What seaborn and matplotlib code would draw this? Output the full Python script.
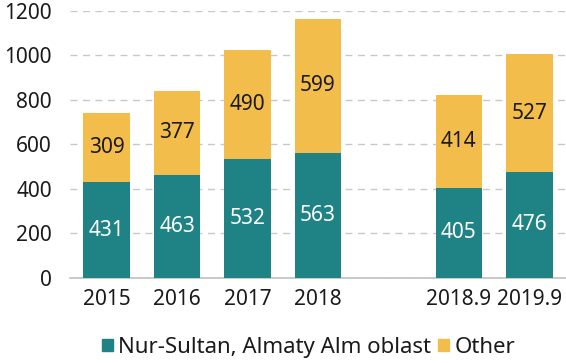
import matplotlib
matplotlib.use('Agg')
import matplotlib.pyplot as plt
import seaborn as sns
import pandas as pd
from matplotlib.patches import Patch

# Data
years = ['2015', '2016', '2017', '2018', '2018.9', '2019.9']
nur_sultan = [431, 463, 532, 563, 405, 476]
other = [309, 377, 490, 599, 414, 527]
order = ['2015', '2016', '2017', '2018', ' ', '2018.9', '2019.9']

teal = '#1f8285'
yellow = '#f3bd4b'

df = pd.DataFrame({'year': years, 'nur': nur_sultan, 'other': other})
df['total'] = df['nur'] + df['other']

sns.set_style('white')
plt.rcParams['font.family'] = ['Noto Sans', 'DejaVu Sans']

fig = plt.figure(figsize=(5.66, 3.63), dpi=100)
ax = fig.add_axes([0.1237, 0.234, 0.8763, 0.737])

# stacked bars: total first (yellow), bottom part on top (teal)
sns.barplot(data=df, x='year', y='total', order=order, color=yellow,
            width=0.66, linewidth=0, saturation=1, ax=ax, zorder=3)
sns.barplot(data=df, x='year', y='nur', order=order, color=teal,
            width=0.66, linewidth=0, saturation=1, ax=ax, zorder=3)

# labels
fs = 15
for i, y in enumerate(years):
    xi = order.index(y)
    ax.text(xi, nur_sultan[i] / 2, str(nur_sultan[i]), ha='center', va='center',
            color='white', fontsize=fs, zorder=4)
    ax.text(xi, nur_sultan[i] + other[i] / 2, str(other[i]), ha='center', va='center',
            color='#1a1a1a', fontsize=fs, zorder=4)

ax.set_ylim(0, 1200)
ax.set_xlim(-0.52, 6.52)
ax.set_yticks(range(0, 1201, 200))
ax.set_xlabel('')
ax.set_ylabel('')
ax.yaxis.grid(True, color='#c8c8c8', linestyle=(0, (5, 4)), linewidth=1)
ax.set_axisbelow(True)
for s in ['top', 'right', 'left']:
    ax.spines[s].set_visible(False)
ax.spines['bottom'].set_color('#c0c0c0')
ax.spines['bottom'].set_linewidth(1.2)
ax.tick_params(axis='both', length=0, labelsize=fs, colors='#1a1a1a')
ax.tick_params(axis='x', pad=8)
ax.tick_params(axis='y', pad=13)

handles = [Patch(color=teal, label='Nur-Sultan, Almaty Alm oblast'),
           Patch(color=yellow, label='Other')]
fig.legend(handles=handles, loc='center', bbox_to_anchor=(0.545, 0.043), ncol=2,
           frameon=False, fontsize=16, handlelength=0.5, handleheight=0.5,
           handletextpad=0.25, columnspacing=0.3, labelcolor='#1a1a1a')

fig.savefig('out.png', dpi=100)
